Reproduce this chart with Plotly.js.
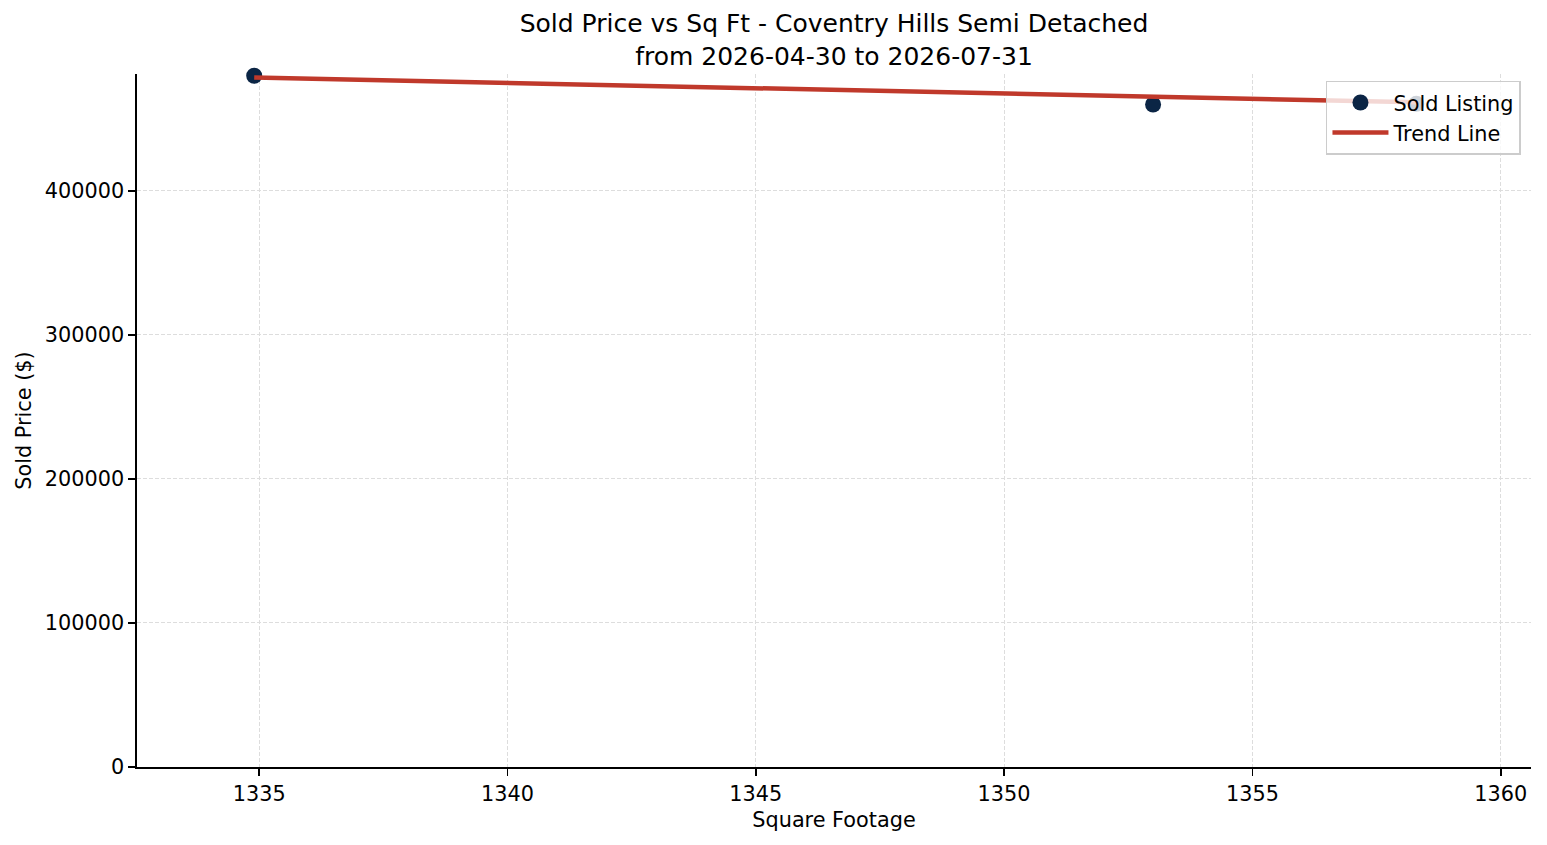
<!DOCTYPE html>
<html>
<head>
<meta charset="utf-8">
<script src="https://cdn.plot.ly/plotly-3.0.1.min.js"></script>
<style>
  html, body { margin: 0; padding: 0; background: #fff; }
  #chart { width: 1547px; height: 845px; }
</style>
</head>
<body>
<div id="chart"></div>
<script>
// sold listings
const soldSqFt = [1334.9, 1353.0, 1358.3];
const soldPrice = [480000, 460000, 460500];

// trend line ends
const trendSqFt = [1334.9, 1358.3];
const trendPrice = [478800, 461500];

const xTicks = [1335, 1340, 1345, 1350, 1355, 1360];
const yTicks = [0, 100000, 200000, 300000, 400000];

const font = { family: 'DejaVu Sans', color: '#000', size: 20.8 };

const soldTrace = {
    type: 'scatter',
    mode: 'markers',
    name: 'Sold Listing',
    x: soldSqFt,
    y: soldPrice,
    marker: { color: '#0b2545', size: 16 },
    cliponaxis: false
};

const trendTrace = {
    type: 'scatter',
    mode: 'lines',
    name: 'Trend Line',
    x: trendSqFt,
    y: trendPrice,
    line: { color: '#c0392b', width: 4.5 },
    cliponaxis: false
};

const axisStyle = {
    showgrid: true,
    gridcolor: '#dddddd',
    griddash: '4px,2px',
    gridwidth: 1,
    zeroline: false,
    showline: true,
    linecolor: '#000',
    linewidth: 1.6,
    ticks: 'outside',
    ticklen: 7,
    tickwidth: 1.6,
    tickcolor: '#000',
    tickfont: font
};

const layout = {
    width: 1547,
    height: 845,
    margin: { t: 74, r: 16, l: 137, b: 78 },
    paper_bgcolor: '#fff',
    plot_bgcolor: '#fff',
    font: font,
    title: {
        text: 'Sold Price vs Sq Ft - Coventry Hills Semi Detached<br>from 2026-04-30 to 2026-07-31',
        font: { family: 'DejaVu Sans', color: '#000', size: 25 },
        x: 0.5,
        xref: 'paper',
        y: 0.9616,
        yref: 'container',
        yanchor: 'top'
    },
    xaxis: Object.assign({}, axisStyle, {
        range: [1332.54, 1360.61],
        tickvals: xTicks,
        ticktext: xTicks.map(String),
        title: { text: 'Square Footage', font: font, standoff: 8 }
    }),
    yaxis: Object.assign({}, axisStyle, {
        range: [0, 481200],
        tickvals: yTicks,
        ticktext: yTicks.map(String),
        title: { text: 'Sold Price ($)', font: font, standoff: 7 }
    }),
    legend: {
        x: 0.9928,
        y: 0.9899,
        xanchor: 'right',
        yanchor: 'top',
        bgcolor: 'rgba(255,255,255,0.8)',
        bordercolor: '#cccccc',
        borderwidth: 1.5,
        font: font,
        itemwidth: 56,
        tracegroupgap: 0
    },
    showlegend: true
};

Plotly.newPlot('chart', [soldTrace, trendTrace], layout, { displayModeBar: false, staticPlot: true });
</script>
</body>
</html>
